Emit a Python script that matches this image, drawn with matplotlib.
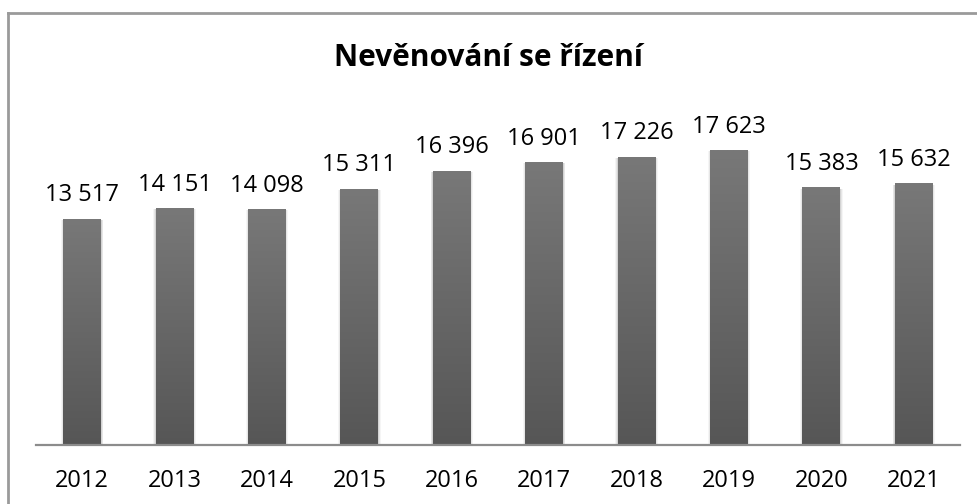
import matplotlib
matplotlib.use("Agg")
import matplotlib.pyplot as plt
import numpy as np
from matplotlib.lines import Line2D
from matplotlib.colors import LinearSegmentedColormap

years = ["2012", "2013", "2014", "2015", "2016", "2017", "2018", "2019", "2020", "2021"]
values = [13517, 14151, 14098, 15311, 16396, 16901, 17226, 17623, 15383, 15632]
title = "Nevěnování se řízení"

plt.rcParams['font.family'] = ['Open Sans', 'DejaVu Sans']

W, H = 977, 504
fig = plt.figure(figsize=(W / 100, H / 100), dpi=100)
fig.patch.set_facecolor("white")

# frame (left and top borders)
fig.add_artist(Line2D([7.5 / W, 7.5 / W], [0, 1 - 12.5 / H], color="#9a9a9a", lw=2))
fig.add_artist(Line2D([7.5 / W, 1], [1 - 12.5 / H, 1 - 12.5 / H], color="#9a9a9a", lw=2))

ax_left, ax_right = 36 / W, 960 / W
ax_bottom, ax_top = 1 - 445 / H, 1 - 100 / H
ax = fig.add_axes([ax_left, ax_bottom, ax_right - ax_left, ax_top - ax_bottom])
ax.patch.set_alpha(0)
for s in ["left", "right", "top"]:
    ax.spines[s].set_visible(False)
ax.spines["bottom"].set_color("#8c8c8c")
ax.spines["bottom"].set_linewidth(1.6)
ax.spines["bottom"].set_zorder(5)
ax.set_yticks([])
x = np.arange(len(years))
ax.set_xticks(x)
ax.set_xticklabels(years, fontsize=17)
ax.tick_params(axis="x", length=0, pad=17, colors="#000000")

bw = 0.41
# soft shadow
for k, a in [(0.05, 0.04), (0.03, 0.06), (0.012, 0.08)]:
    ax.bar(x, np.array(values) + 40, width=bw + k, bottom=-120, color="black", alpha=a,
           zorder=1, linewidth=0)

bars = ax.bar(x, values, width=bw, color="#666666", zorder=2, linewidth=0)
grad = np.linspace(0, 1, 256).reshape(-1, 1)
cmap = LinearSegmentedColormap.from_list("g", ["#565656", "#787878"])
for i, b in enumerate(bars):
    x0, w, h = b.get_x(), b.get_width(), b.get_height()
    im = ax.imshow(grad, extent=[x0, x0 + w, 0, h], origin="lower", cmap=cmap,
                   aspect="auto", zorder=3)
    im.set_clip_path(b)
    ax.text(x0 + w / 2, h + 1400, f"{values[i]:,}".replace(",", " "),
            ha="center", va="center", fontsize=17, color="#000000", zorder=4)
ax.set_xlim(-0.5, len(years) - 0.5)
ax.set_ylim(0, 20610)

fig.text(489 / W, 1 - 58 / H, title, ha="center", va="center", fontsize=21.5,
         fontweight="bold", color="#000000")

fig.savefig("out.png", dpi=100)
